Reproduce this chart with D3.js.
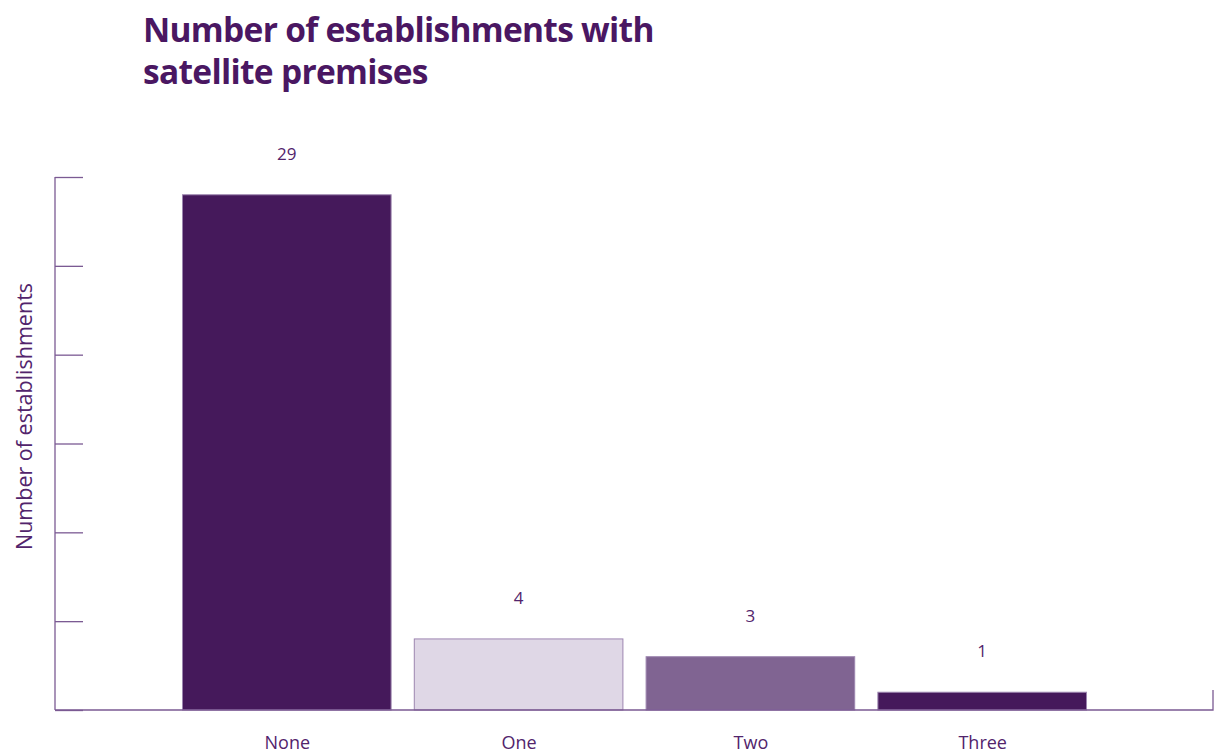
<!DOCTYPE html>
<html><head><meta charset="utf-8">
<script src="https://cdn.jsdelivr.net/npm/d3@7"></script>
<style>body{margin:0;background:#fff}svg{display:block}</style>
</head><body>
<svg id="c" width="1214" height="753"></svg>
<script>
const categories = ["None", "One", "Two", "Three"];
const values = [29, 4, 3, 1];
const barColors = ["#45195b", "#dfd7e6", "#806492", "#45195b"];
const yTicks = [0, 5, 10, 15, 20, 25, 30];
const titleLines = ["Number of establishments with", "satellite premises"];
const yTitle = "Number of establishments";

(function () {
const svg = d3.select("#c");
const mLeft = 55, mRight = 1214, mTop = 177, mBottom = 710;
const axisColor = "#7b5a93", textColor = "#52246c";

const x = d3.scalePoint().domain(categories).range([mLeft, mRight]).padding(1);
const y = d3.scaleLinear().domain([0, 30]).range([mBottom, mTop]);
const bw = x.step() * 0.9;

// title
svg.append("g").selectAll("text").data(titleLines).join("text")
  .attr("x", 143).attr("y", (d, i) => 42 + i * 42)
  .attr("font-family", "Open Sans").attr("font-weight", 700)
  .attr("font-size", 33.5).attr("fill", "#4a1762")
  .attr("letter-spacing", -0.7)
  .text(d => d);

// y axis
const ya = svg.append("g").attr("transform", `translate(${mLeft},0)`)
  .call(d3.axisRight(y).tickValues(yTicks).tickSize(28).tickFormat(""));
ya.select(".domain").attr("stroke", axisColor).attr("stroke-width", 1.3).attr("d", `M0,${mTop}V${mBottom}`);
ya.selectAll(".tick line").attr("stroke", axisColor).attr("stroke-width", 1.3);

// bars
svg.append("g").selectAll("rect").data(values).join("rect")
  .attr("x", (d, i) => x(categories[i]) - bw / 2)
  .attr("width", bw)
  .attr("y", d => y(d))
  .attr("height", d => y(0) - y(d))
  .attr("fill", (d, i) => barColors[i])
  .attr("stroke", "#9d86b0").attr("stroke-width", 1);

// x axis
const xa = svg.append("g").attr("transform", `translate(0,${mBottom})`)
  .call(d3.axisBottom(x).tickSize(0).tickPadding(26));
xa.select(".domain").attr("stroke", axisColor).attr("stroke-width", 1.3).attr("d", `M${mLeft},0H${mRight - 1}V-20`);
xa.selectAll(".tick text").attr("font-family", "Open Sans").attr("font-size", 18).attr("fill", textColor);

// value labels
svg.append("g").selectAll("text").data(values).join("text")
  .attr("x", (d, i) => x(categories[i]))
  .attr("y", d => y(d) - 35)
  .attr("text-anchor", "middle")
  .attr("font-family", "Open Sans").attr("font-size", 17).attr("fill", textColor)
  .text(d => d);

// y title
svg.append("text")
  .attr("transform", `translate(32,${(mTop + mBottom) / 2 - 27}) rotate(-90)`)
  .attr("text-anchor", "middle")
  .attr("font-family", "Open Sans").attr("font-size", 21.5).attr("fill", textColor)
  .text(yTitle);
})();
</script>
</body></html>
